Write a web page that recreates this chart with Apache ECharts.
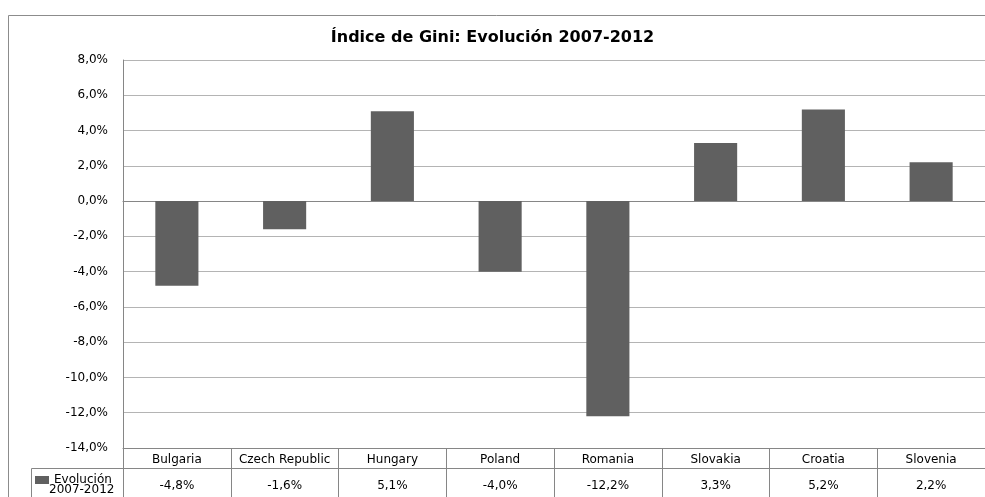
<!DOCTYPE html>
<html>
<head>
<meta charset="utf-8">
<script src="https://cdn.jsdelivr.net/npm/echarts@6/dist/echarts.min.js"></script>
<style>
html,body{margin:0;padding:0;background:#fff;}
#c{width:985px;height:497px;}
</style>
</head>
<body>
<div id="c"></div>
<script>
var categories = ['Bulgaria','Czech Republic','Hungary','Poland','Romania','Slovakia','Croatia','Slovenia'];
var values = [-4.8, -1.6, 5.1, -4.0, -12.2, 3.3, 5.2, 2.2];
var seriesName = 'Evolución 2007-2012';
var titleText = 'Índice de Gini: Evolución 2007-2012';
var yMin = -14, yMax = 8, yStep = 2;

var FONT = 'DejaVu Sans';
var fmt = function (v) { return v.toFixed(1).replace('.', ',') + '%'; };

var chart = echarts.init(document.getElementById('c'), null, {renderer: 'canvas'});
chart.setOption({
  animation: false,
  backgroundColor: '#fff',
  textStyle: {fontFamily: FONT},
  title: {
    text: titleText,
    left: 'center',
    top: 25,
    textStyle: {fontFamily: FONT, fontSize: 16, fontWeight: 'bold', color: '#000'}
  },
  legend: {
    left: 35, top: 474, padding: 0,
    itemWidth: 14, itemHeight: 8, icon: 'rect',
    formatter: function (n) { return n.split(' ')[0]; },
    textStyle: {fontFamily: FONT, fontSize: 12, color: '#000', padding: [0,0,0,0]},
    data: [seriesName]
  },
  grid: {left: 123, right: 0, top: 60, bottom: 49, containLabel: false},
  yAxis: {
    type: 'value', min: yMin, max: yMax, interval: yStep,
    axisLine: {show: true, lineStyle: {color: '#868686'}},
    axisTick: {show: false},
    axisLabel: {margin: 15, fontFamily: FONT, fontSize: 12, color: '#000', formatter: fmt},
    splitLine: {lineStyle: {color: '#b4b4b4', width: 1}}
  },
  xAxis: [
    {
      type: 'category', data: categories, position: 'bottom',
      axisLine: {show: true, onZero: true, lineStyle: {color: '#868686'}},
      axisTick: {show: false}, axisLabel: {show: false}
    },
    {
      type: 'category', data: categories, position: 'bottom',
      axisLine: {show: true, onZero: false, lineStyle: {color: '#868686'}},
      axisTick: {show: true, interval: 0, length: 49, lineStyle: {color: '#868686'}},
      axisLabel: {interval: 0, margin: 6, fontFamily: FONT, fontSize: 12, color: '#000'}
    },
    {
      type: 'category', data: categories, position: 'bottom', offset: 20,
      axisLine: {show: true, onZero: false, lineStyle: {color: '#868686'}},
      axisTick: {show: false},
      axisLabel: {interval: 0, margin: 12, fontFamily: FONT, fontSize: 12, color: '#000',
        formatter: function (v, i) { return fmt(values[i]); }}
    }
  ],
  series: [{
    name: seriesName, type: 'bar', xAxisIndex: 0,
    data: values, barWidth: '40%',
    itemStyle: {color: '#606060', borderWidth: 0}
  }],
  graphic: [
    {type: 'line', shape: {x1: 8.5, y1: 15.5, x2: 985, y2: 15.5}, style: {stroke: '#8c8c8c', lineWidth: 1}, silent: true},
    {type: 'line', shape: {x1: 8.5, y1: 15.5, x2: 8.5, y2: 497}, style: {stroke: '#8c8c8c', lineWidth: 1}, silent: true},
    {type: 'line', shape: {x1: 31.5, y1: 468.5, x2: 123, y2: 468.5}, style: {stroke: '#868686', lineWidth: 1}, silent: true},
    {type: 'line', shape: {x1: 31.5, y1: 468.5, x2: 31.5, y2: 497}, style: {stroke: '#868686', lineWidth: 1}, silent: true},
    {type: 'text', left: 49, top: 484, style: {text: seriesName.split(' ')[1], font: '12px ' + FONT, fill: '#000'}, silent: true}
  ]
});
</script>
</body>
</html>
